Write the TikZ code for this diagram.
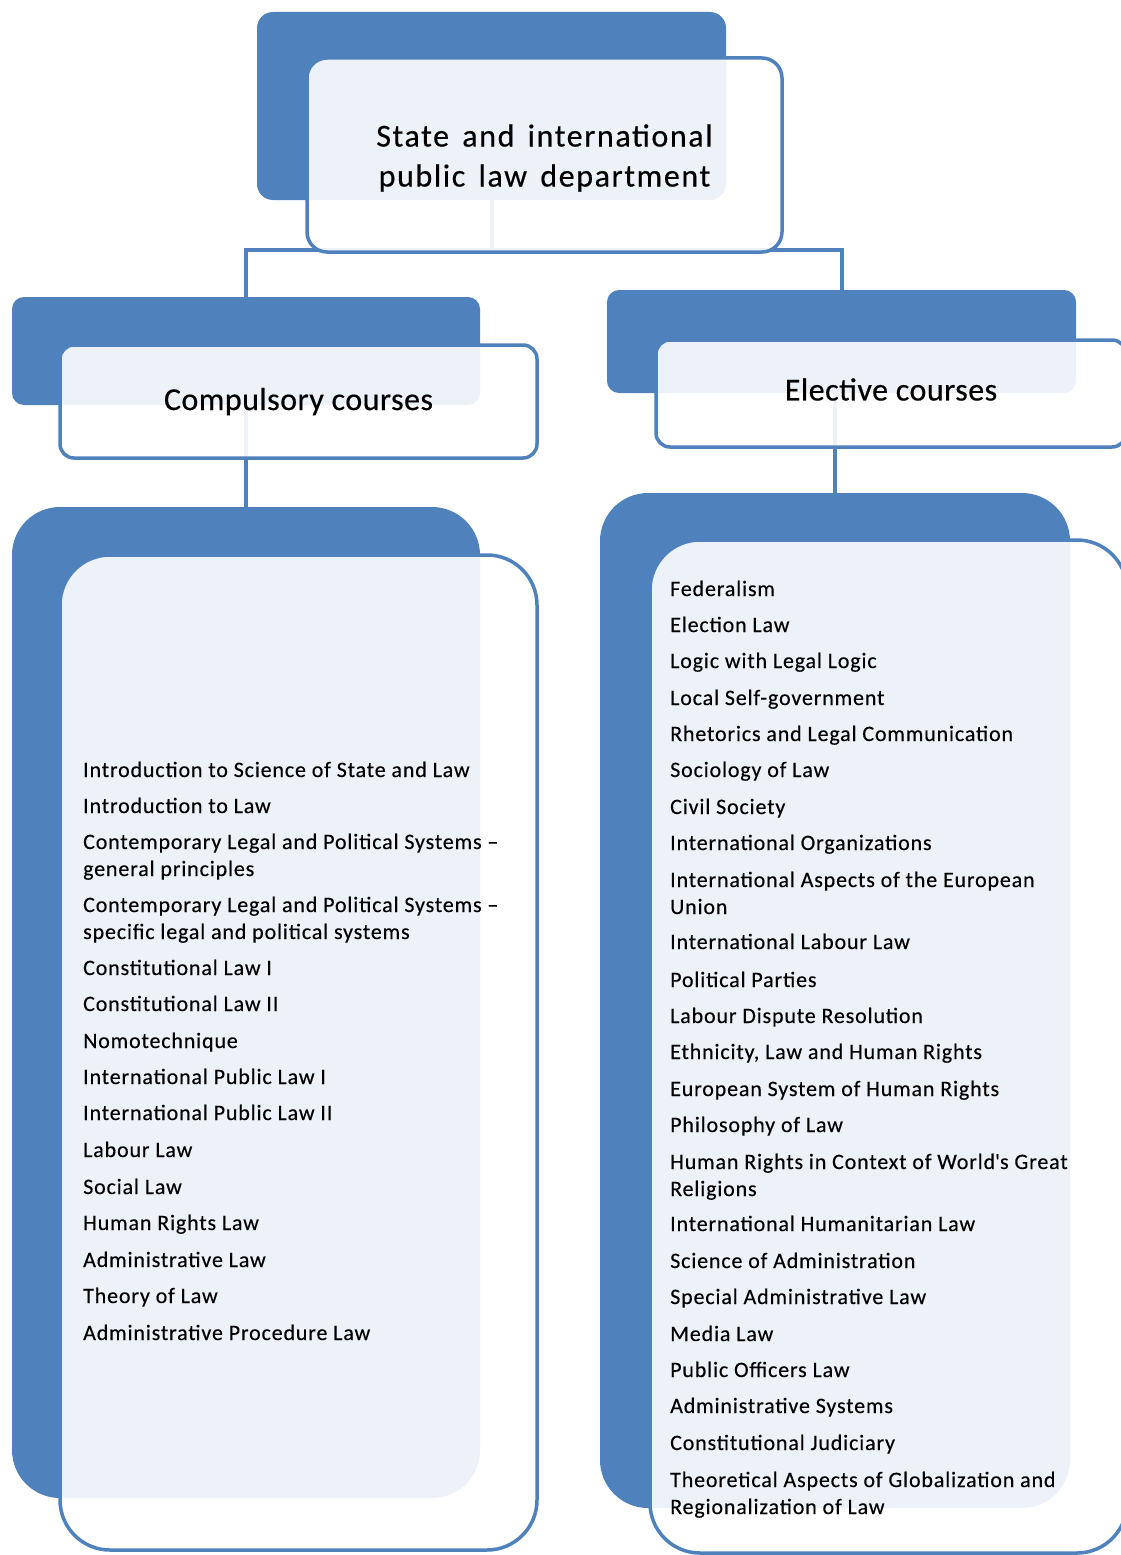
\documentclass[tikz,border=0pt]{standalone}
\usepackage{fontspec}
\setmainfont{Carlito}
\newfontfamily\itemfont[LetterSpace=3.8,FakeBold=0.3]{Carlito}
\newfontfamily\hdrfont[LetterSpace=1.5,FakeBold=0.4]{Carlito}
\newfontfamily\topfont[LetterSpace=5,WordSpace=1.5,FakeBold=0.4]{Carlito}
\definecolor{sblue}{RGB}{79,129,189}
\begin{document}
\begin{tikzpicture}[x=1pt,y=-1pt,
  backbox/.style={fill=sblue, draw=none, inner sep=0pt},
  frontbox/.style={fill=white, fill opacity=0.9, text opacity=1, draw=sblue, line width=3.5pt, inner sep=0pt, align=center},
  conn/.style={draw=sblue, line width=4pt},
  hdr/.style={font=\hdrfont\fontsize{32}{40}\selectfont},
  tophdr/.style={font=\topfont\fontsize{32}{40}\selectfont},
  item/.style={anchor=base west, inner sep=0pt, font=\itemfont\fontsize{22}{27}\selectfont, text=black}]
\useasboundingbox (0,0) rectangle (1120,1555);
% back boxes
\node[backbox, rounded corners=16pt, minimum width=469pt, minimum height=188pt] (topback) at (491.5,106) {};
\node[backbox, rounded corners=12pt, minimum width=468pt, minimum height=108pt] (compback) at (246,351) {};
\node[backbox, rounded corners=12pt, minimum width=469pt, minimum height=103pt] (elecback) at (841.5,341.5) {};
\node[backbox, rounded corners=48pt, minimum width=468pt, minimum height=991pt] (complistback) at (246,1002.5) {};
\node[backbox, rounded corners=48pt, minimum width=470pt, minimum height=1015pt] (eleclistback) at (835,1000.5) {};
% connectors
\coordinate (j) at (491.5,250);
\draw[conn] (topback.south) -- (j);
\draw[conn] (compback.north) |- (j) -| (elecback.north);
\draw[conn] (compback.south) -- (complistback.north);
\draw[conn] (elecback.south -| eleclistback.north) -- (eleclistback.north);
% front boxes
\node[frontbox, rounded corners=20pt, minimum width=475pt, minimum height=194pt] (topfront) at (544.5,155) {};
\node[tophdr, align=center, inner sep=0pt] (toptext) at (544.5,158) {State and international\\public law department};
\node[frontbox, hdr, rounded corners=14pt, minimum width=477pt, minimum height=113pt] (compfront) at (298.5,401.5) {Compulsory courses};
\node[frontbox, rounded corners=14pt, minimum width=470pt, minimum height=107pt] (elecfront) at (891,393.5) {};
\node[hdr, inner sep=0pt] (electext) at (891,389.5) {Elective courses};
\node[frontbox, rounded corners=50pt, minimum width=477pt, minimum height=995pt] (complistfront) at (298.5,1052.5) {};
\node[frontbox, rounded corners=50pt, minimum width=477pt, minimum height=1013pt] (eleclistfront) at (888.5,1046.5) {};
% compulsory list
\node[item] (c1) at (83,777) {Introduction to Science of State and Law};
\node[item] (c2) at (83,813) {Introduction to Law};
\node[item] (c3) at (83,849) {\begin{tabular}[t]{@{}l@{}}Contemporary Legal and Political Systems \textendash\\general principles\end{tabular}};
\node[item] (c4) at (83,912) {\begin{tabular}[t]{@{}l@{}}Contemporary Legal and Political Systems \textendash\\specific legal and political systems\end{tabular}};
\node[item] (c5) at (83,975) {Constitutional Law I};
\node[item] (c6) at (83,1011) {Constitutional Law II};
\node[item] (c7) at (83,1048) {Nomotechnique};
\node[item] (c8) at (83,1084) {International Public Law I};
\node[item] (c9) at (83,1120) {International Public Law II};
\node[item] (c10) at (83,1157) {Labour Law};
\node[item] (c11) at (83,1194) {Social Law};
\node[item] (c12) at (83,1230) {Human Rights Law};
\node[item] (c13) at (83,1267) {Administrative Law};
\node[item] (c14) at (83,1303) {Theory of Law};
\node[item] (c15) at (83,1340) {Administrative Procedure Law};
% elective list
\node[item] (e1) at (670,596) {Federalism};
\node[item] (e2) at (670,632) {Election Law};
\node[item] (e3) at (670,668) {Logic with Legal Logic};
\node[item] (e4) at (670,705) {Local Self-government};
\node[item] (e5) at (670,741) {Rhetorics and Legal Communication};
\node[item] (e6) at (670,777) {Sociology of Law};
\node[item] (e7) at (670,814) {Civil Society};
\node[item] (e8) at (670,850) {International Organizations};
\node[item] (e9) at (670,887) {\begin{tabular}[t]{@{}l@{}}International Aspects of the European\\Union\end{tabular}};
\node[item] (e10) at (670,949) {International Labour Law};
\node[item] (e11) at (670,987) {Political Parties};
\node[item] (e12) at (670,1023) {Labour Dispute Resolution};
\node[item] (e13) at (670,1059) {Ethnicity, Law and Human Rights};
\node[item] (e14) at (670,1096) {European System of Human Rights};
\node[item] (e15) at (670,1132) {Philosophy of Law};
\node[item] (e16) at (670,1169) {\begin{tabular}[t]{@{}l@{}}Human Rights in Context of World\textquotesingle s Great\\Religions\end{tabular}};
\node[item] (e17) at (670,1231) {International Humanitarian Law};
\node[item] (e18) at (670,1268) {Science of Administration};
\node[item] (e19) at (670,1304) {Special Administrative Law};
\node[item] (e20) at (670,1341) {Media Law};
\node[item] (e21) at (670,1377) {Public Officers Law};
\node[item] (e22) at (670,1413) {Administrative Systems};
\node[item] (e23) at (670,1450) {Constitutional Judiciary};
\node[item] (e24) at (670,1487) {\begin{tabular}[t]{@{}l@{}}Theoretical Aspects of Globalization and\\Regionalization of Law\end{tabular}};
\end{tikzpicture}
\end{document}
